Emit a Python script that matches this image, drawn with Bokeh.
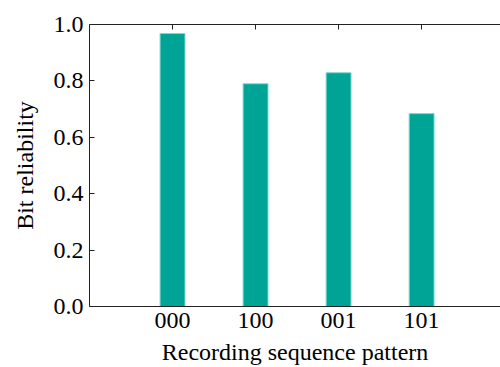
from bokeh.plotting import figure
from bokeh.models import LinearAxis, FixedTicker, Range1d
from bokeh.embed import file_html
from bokeh.resources import INLINE

patterns = ["000", "100", "001", "101"]
reliability = [0.968, 0.790, 0.829, 0.684]
y_ticks = [0.0, 0.2, 0.4, 0.6, 0.8, 1.0]
positions = list(range(len(patterns)))

FONT = "Liberation Serif"

p = figure(width=500, height=367, output_backend="svg", toolbar_location=None,
           x_range=Range1d(-1, 3.95), y_range=Range1d(0, 1.0),
           x_axis_location=None, y_axis_location=None)
p.min_border_left = 89
p.min_border_right = 0
p.min_border_top = 24
p.min_border_bottom = 60
p.outline_line_color = None
p.grid.visible = False
p.background_fill_color = "white"
p.border_fill_color = "white"

p.vbar(x=positions, top=reliability, width=0.3, fill_color="#00a497",
       line_color="#7fd8ce", line_width=1)

labels = {i: s for i, s in enumerate(patterns)}

def style(ax):
    ax.major_tick_in = 5
    ax.major_tick_out = 0
    ax.minor_tick_line_color = None
    ax.axis_line_color = "#222222"
    ax.major_tick_line_color = "#222222"
    ax.major_label_text_font = FONT
    ax.major_label_text_font_size = "24px"
    ax.major_label_text_color = "black"
    ax.axis_label_text_font = FONT
    ax.axis_label_text_font_size = "24px"
    ax.axis_label_text_font_style = "normal"
    ax.axis_label_text_color = "black"

left = LinearAxis(ticker=FixedTicker(ticks=y_ticks), axis_label="Bit reliability")
style(left)
left.major_label_overrides = {t: f"{t:.1f}" for t in y_ticks}
left.major_label_standoff = 6
left.axis_label_standoff = 13
p.add_layout(left, "left")

below = LinearAxis(ticker=FixedTicker(ticks=positions), axis_label="Recording sequence pattern")
style(below)
below.major_tick_in = 0
below.major_label_overrides = labels
below.major_label_standoff = 6
below.axis_label_standoff = 8
below.axis_label_text_line_height = 0.7
below.major_label_text_line_height = 0.8
p.add_layout(below, "below")

above = LinearAxis(ticker=FixedTicker(ticks=positions))
style(above)
above.major_label_text_font_size = "1px"
above.major_label_text_color = None
above.major_label_standoff = 0
p.add_layout(above, "above")

open("out.html", "w").write(file_html(p, INLINE))
